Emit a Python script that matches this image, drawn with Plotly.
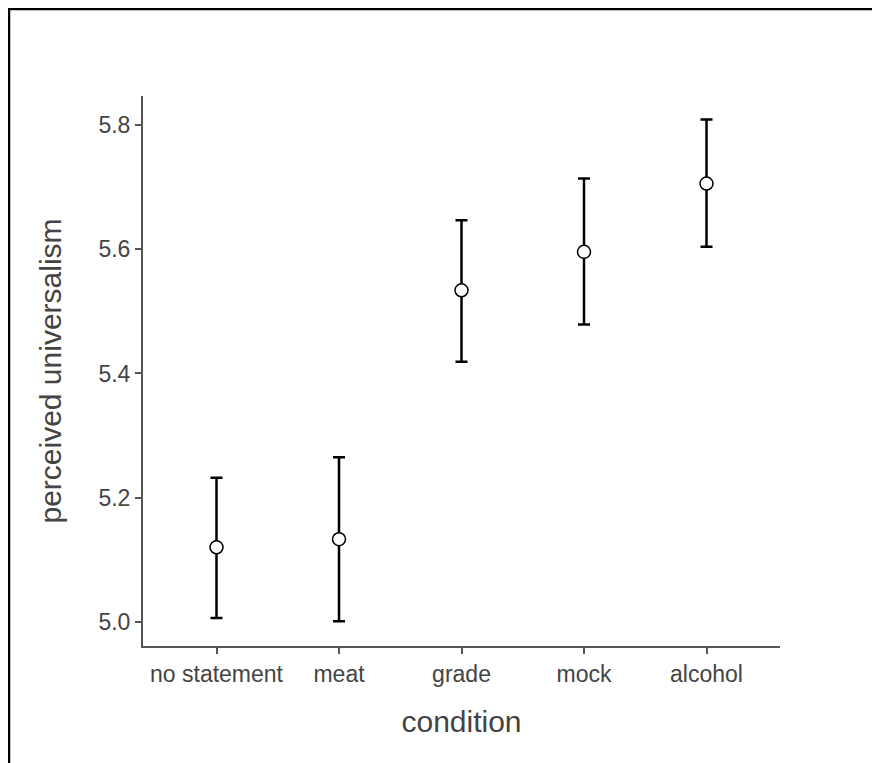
import plotly.graph_objects as go

conditions = ["no statement", "meat", "grade", "mock", "alcohol"]
means = [5.120, 5.133, 5.534, 5.596, 5.706]
upper = [5.232, 5.265, 5.647, 5.714, 5.809]
lower = [5.006, 5.001, 5.419, 5.479, 5.604]
y_ticks = [5.0, 5.2, 5.4, 5.6, 5.8]

err_plus = [u - m for u, m in zip(upper, means)]
err_minus = [m - l for m, l in zip(means, lower)]

axis_col = "#555555"
text_col = "#444444"

# page body has an 8px margin, so the figure is 872x755 and shifted by 8px
fig = go.Figure()
fig.add_trace(go.Scatter(
    x = list(range(len(conditions))), y = means, mode = "markers",
    marker = dict(size = 13, color = "white", line = dict(color = "black", width = 1.5)),
    error_y = dict(type = "data", symmetric = False, array = err_plus, arrayminus = err_minus,
                   color = "black", thickness = 2.5, width = 6),
    showlegend = False))

fig.update_layout(
    width = 872, height = 755,
    margin = dict(l = 135, r = 100, t = 88, b = 117),
    paper_bgcolor = "white", plot_bgcolor = "white",
    font = dict(family = "Liberation Sans, Arial, sans-serif", color = text_col),
)

fig.update_xaxes(
    range = [-0.6, 4.6], tickvals = list(range(len(conditions))), ticktext = conditions,
    showgrid = False, zeroline = False, showline = True, linecolor = axis_col, linewidth = 2,
    ticks = "outside", ticklen = 6, tickwidth = 2, tickcolor = axis_col,
    tickfont = dict(size = 23, color = text_col),
    title = dict(text = "condition", font = dict(size = 30, color = text_col), standoff = 25))

fig.update_yaxes(
    range = [4.961, 5.847], tickvals = y_ticks, ticktext = [f"{t:.1f}" for t in y_ticks],
    showgrid = False, zeroline = False, showline = True, linecolor = axis_col, linewidth = 2,
    ticks = "outside", ticklen = 6, tickwidth = 2, tickcolor = axis_col,
    tickfont = dict(size = 23, color = text_col),
    title = dict(text = "perceived universalism", font = dict(size = 30, color = text_col), standoff = 28))

# black frame round the picture (only left and top edges visible)
fig.add_shape(type = "rect", xref = "paper", yref = "paper",
              x0 = (1 - 135) / 637, x1 = 1.5, y0 = -0.5, y1 = (638 - 1) / 550,
              line = dict(color = "black", width = 2.5), layer = "below")

fig.write_html("out.html")
